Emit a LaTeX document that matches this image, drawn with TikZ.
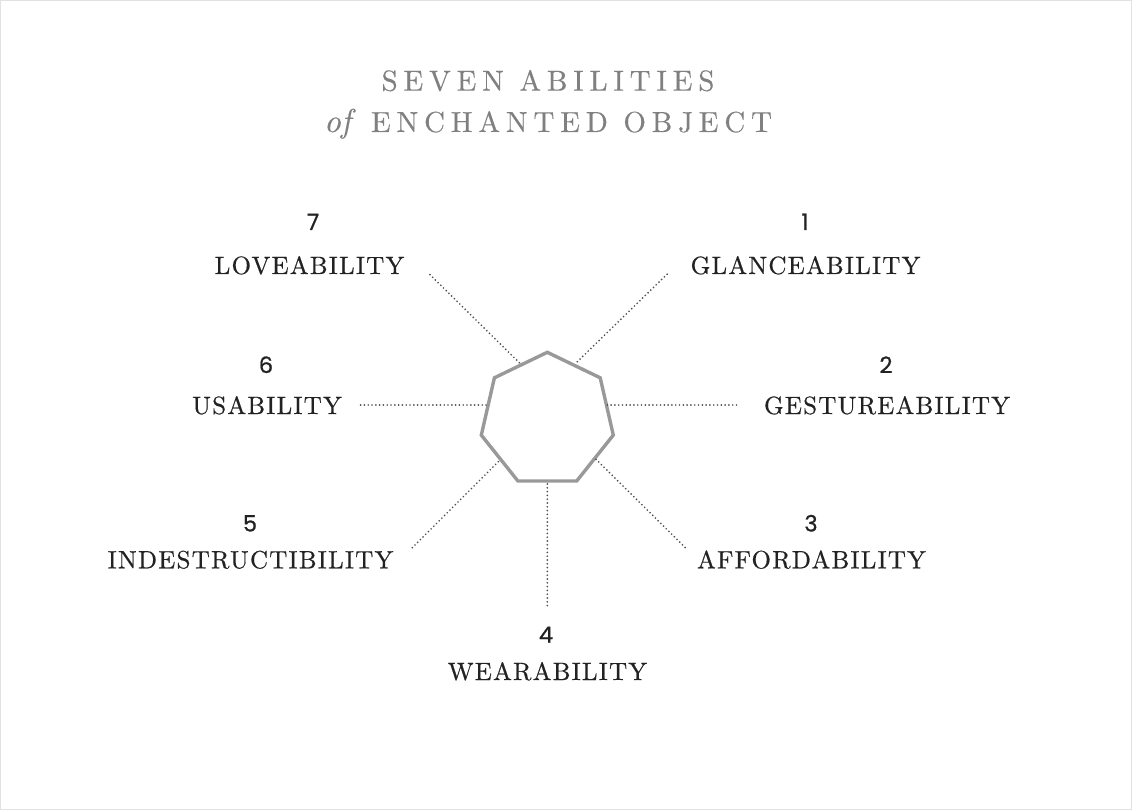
\documentclass[tikz,border=0pt]{standalone}
\usepackage{fontspec}
\newfontfamily\numfont{Poppins}[FakeBold=0.8]
\newfontfamily\lblfont{lmroman10-regular.otf}[LetterSpace=5,FakeBold=0.5]
\newfontfamily\ttlfont{lmroman10-regular.otf}[LetterSpace=20,FakeBold=0.3]
\newfontfamily\ofont{lmroman10-italic.otf}[FakeBold=0.3]
\definecolor{titlegray}{HTML}{808080}
\definecolor{hepgray}{HTML}{999999}
\definecolor{dotgray}{HTML}{505050}
\definecolor{ink}{HTML}{222222}
\definecolor{framegray}{HTML}{E2E2E2}
\begin{document}
\begin{tikzpicture}[x=1pt,y=-1pt,
  titletext/.style={text=titlegray,anchor=base,inner sep=0pt,
    font=\ttlfont\fontsize{29}{32}\selectfont},
  labeltext/.style={text=ink,anchor=base,inner sep=0pt,
    font=\lblfont\fontsize{25}{28}\selectfont},
  numtext/.style={text=ink,anchor=base,inner sep=0pt,
    font=\numfont\fontsize{22.5}{25}\selectfont},
  hept/.style={draw=hepgray,line width=3.4pt,line join=miter},
  dotline/.style={draw=dotgray,line width=1.9pt,line cap=round,
    dash pattern=on 0pt off 3.8pt}
]
\useasboundingbox (0,0) rectangle (1132,810);
\draw[framegray,line width=1pt] (0.5,0.5) rectangle (1131.5,809.5);

% title
\node[titletext] (t1) at (548,90.7) {SEVEN ABILITIES};
\node[titletext] (t2) at (548,132) {{\ofont\fontsize{33}{33}\selectfont of}\hspace{20pt}ENCHANTED OBJECT};

% heptagon
\coordinate (v0) at (547.3,352.3);
\coordinate (v1) at (600.2,377.8);
\coordinate (v2) at (613.3,435.1);
\coordinate (v3) at (576.7,481.0);
\coordinate (v4) at (517.9,481.0);
\coordinate (v5) at (481.3,435.1);
\coordinate (v6) at (494.4,377.8);
\draw[hept] (v0) -- (v1) -- (v2) -- (v3) -- (v4) -- (v5) -- (v6) -- cycle;

% connector ends
\coordinate (a1) at (577.3,361.7); \coordinate (b1) at (667.3,274);
\coordinate (a2) at (607.3,405);   \coordinate (b2) at (739.3,405);
\coordinate (a3) at (596,459.3);   \coordinate (b3) at (686,548.3);
\coordinate (a4) at (547.3,484);   \coordinate (b4) at (547.3,608);
\coordinate (a5) at (498.3,461.7); \coordinate (b5) at (411.7,548.3);
\coordinate (a6) at (486,405);     \coordinate (b6) at (357.3,405);
\coordinate (a7) at (519.3,362.7); \coordinate (b7) at (429.3,274);
\foreach \i in {1,...,7} \draw[dotline] (a\i) -- (b\i);

% labels
\node[numtext] (n1) at (805,230) {1};
\node[labeltext] (l1) at (805.5,274) {GLANCEABILITY};
\node[numtext] (n2) at (886,373) {2};
\node[labeltext] (l2) at (887,414) {GESTUREABILITY};
\node[numtext] (n3) at (811,531.5) {3};
\node[labeltext] (l3) at (811.5,568.3) {AFFORDABILITY};
\node[numtext] (n4) at (546,642.7) {4};
\node[labeltext] (l4) at (547.5,680) {WEARABILITY};
\node[numtext] (n5) at (250,531.5) {5};
\node[labeltext] (l5) at (250.5,568.3) {INDESTRUCTIBILITY};
\node[numtext] (n6) at (266,373) {6};
\node[labeltext] (l6) at (267,414) {USABILITY};
\node[numtext] (n7) at (313,230) {7};
\node[labeltext] (l7) at (309.5,274) {LOVEABILITY};
\end{tikzpicture}
\end{document}
